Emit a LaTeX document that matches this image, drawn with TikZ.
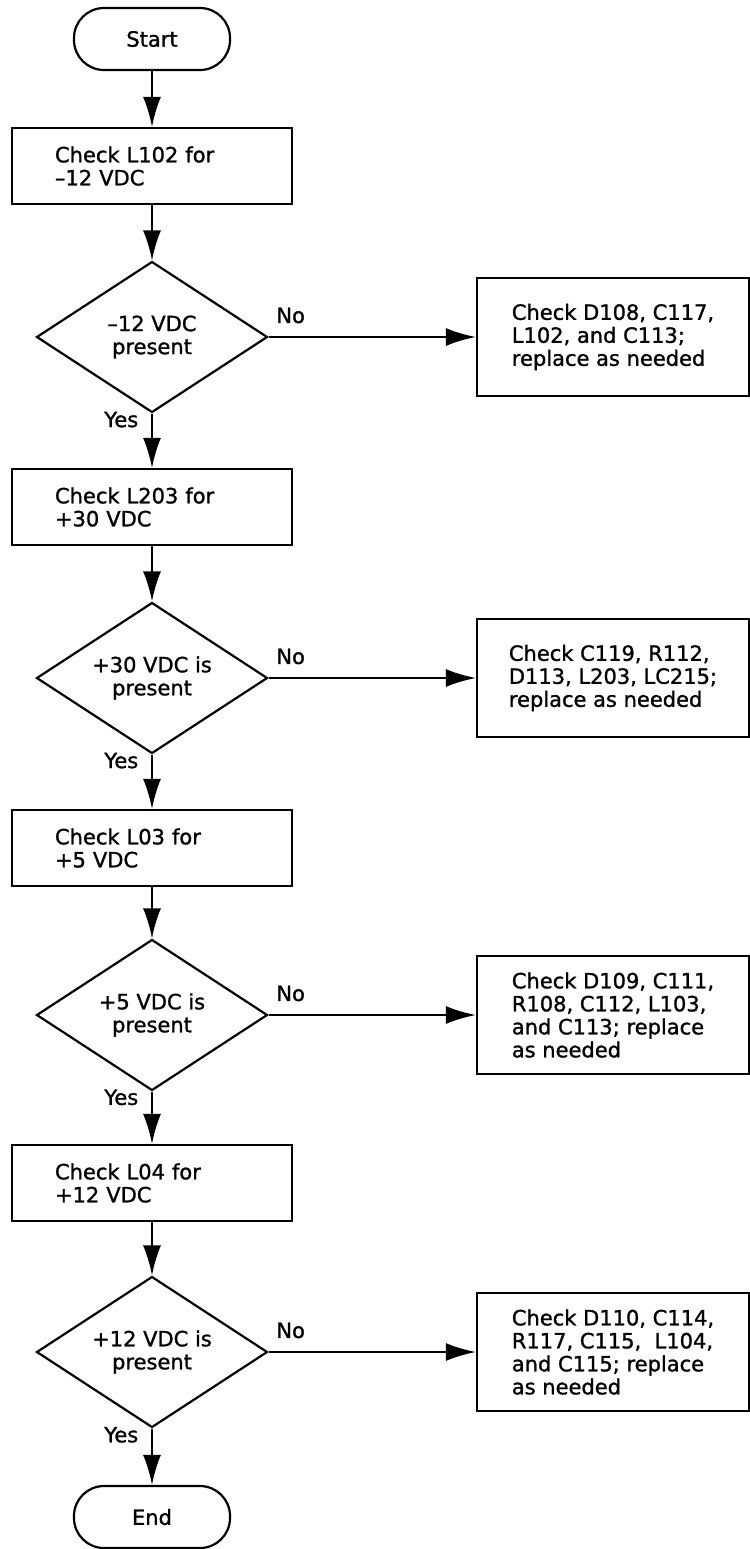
\documentclass[tikz,border=0pt]{standalone}
\usepackage{fontspec}
\setmainfont{DejaVu Sans}[FakeBold=1.2]
\usetikzlibrary{shapes,arrows,arrows.meta}

\begin{document}
\begin{tikzpicture}[x=0.5pt,y=-0.5pt,every node/.style={font=\fontsize{10.5}{11.5}\selectfont}]
		\tikzstyle {terminal} = [draw, line width=1.1pt, rounded corners=15pt, minimum width=78pt, minimum height=31pt]
		\tikzstyle {check box} = [draw, line width=1.1pt, align=left, text width=97pt, inner xsep=21.5pt, minimum height=38pt]
		\tikzstyle {decision} = [draw, line width=1.1pt, diamond, aspect=1.53, inner sep=0pt, minimum width=115.5pt, minimum height=75.5pt, align=center]
		\tikzstyle {repair box} = [draw, line width=1.1pt, align=left, minimum width=136pt, minimum height=59pt]
		\tikzstyle {flow line} = [line width=1.1pt, -{Latex[length=15pt,width=9pt]}]

		\useasboundingbox (0,0) rectangle (750,1549);

		\node[terminal] (start) at (152,39) {Start};

		\node[check box] (check1) at (152,166) {Check L102 for\\\textendash12 VDC};
		\node[decision] (test1) at (152,337) {\textendash12 VDC\\present};
		\node[repair box] (fix1) at (613,337) {Check D108, C117,\\L102, and C113;\\replace as needed};

		\node[check box] (check2) at (152,507) {Check L203 for\\+30 VDC};
		\node[decision] (test2) at (152,678) {+30 VDC is\\present};
		\node[repair box] (fix2) at (613,678) {Check C119, R112,\\D113, L203, LC215;\\replace as needed};

		\node[check box] (check3) at (152,848) {Check L03 for\\+5 VDC};
		\node[decision] (test3) at (152,1015) {+5 VDC is\\present};
		\node[repair box] (fix3) at (613,1015) {Check D109, C111,\\R108, C112, L103,\\and C113; replace\\as needed};

		\node[check box] (check4) at (152,1183) {Check L04 for\\+12 VDC};
		\node[decision] (test4) at (152,1352) {+12 VDC is\\present};
		\node[repair box] (fix4) at (613,1352) {Check D110, C114,\\R117, C115,\ \ L104,\\and C115; replace\\as needed};

		\node[terminal] (end) at (152,1517) {End};

		\draw[flow line] (start) -- (check1);
		\draw[flow line] (check1) -- (test1);
		\draw[flow line] (test1) -- node[pos=0, above right, yshift=3pt] {No} (fix1);
		\draw[flow line] (test1) -- node[pos=0.11, left=3pt] {Yes} (check2);

		\draw[flow line] (check2) -- (test2);
		\draw[flow line] (test2) -- node[pos=0, above right, yshift=3pt] {No} (fix2);
		\draw[flow line] (test2) -- node[pos=0.11, left=3pt] {Yes} (check3);

		\draw[flow line] (check3) -- (test3);
		\draw[flow line] (test3) -- node[pos=0, above right, yshift=3pt] {No} (fix3);
		\draw[flow line] (test3) -- node[pos=0.11, left=3pt] {Yes} (check4);

		\draw[flow line] (check4) -- (test4);
		\draw[flow line] (test4) -- node[pos=0, above right, yshift=3pt] {No} (fix4);
		\draw[flow line] (test4) -- node[pos=0.11, left=3pt] {Yes} (end);
\end{tikzpicture}
\end{document}
